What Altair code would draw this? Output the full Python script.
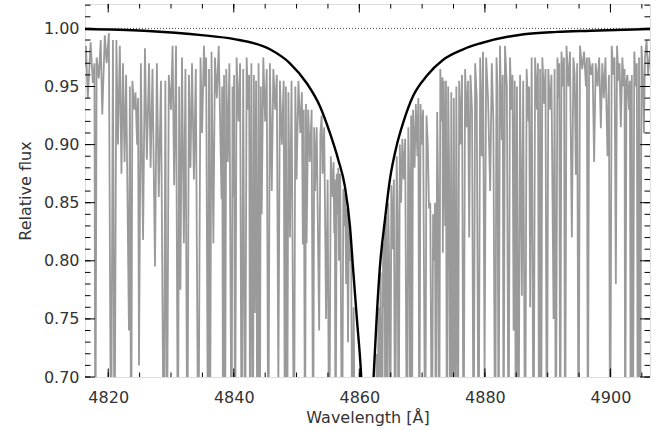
import altair as alt
import pandas as pd

# ---------------- data ----------------
# observed spectrum (wavelength [A], relative flux), blue wing
spec_blue_1 = [(4816.30,0.967),(4816.45,0.985),(4816.75,0.940),(4817.20,0.988),(4817.55,0.953),(4817.80,0.970),
 (4817.95,0.600),(4818.15,0.975),(4818.50,0.957),(4818.80,0.990),(4819.05,0.926),(4819.45,0.994),(4819.75,0.970),
 (4820.10,0.996),(4820.45,0.600),(4820.75,0.990),(4821.00,0.600),(4821.30,0.990),(4821.55,0.900),(4821.85,0.985),
 (4822.10,0.875),(4822.35,0.970),(4822.60,0.885),(4822.85,0.960),(4823.30,0.740),(4823.45,0.950),(4823.65,0.600),
 (4823.85,0.955),(4824.15,0.930),(4824.35,0.945),(4824.60,0.900),(4824.75,0.940),(4824.90,0.710),(4825.20,0.970),
 (4825.55,0.818),(4825.85,0.983),(4826.15,0.887),(4826.50,0.970),(4826.75,0.880),(4827.05,0.965),(4827.45,0.795),
 (4827.75,0.970),(4828.05,0.855),(4828.40,0.955),(4828.85,0.600),(4829.10,0.955),(4829.35,0.600),(4829.65,0.960),
 (4830.00,0.930),(4830.25,0.985),(4830.50,0.865),(4830.80,0.985),(4831.10,0.600),(4831.30,0.950),(4831.50,0.775),
 (4831.75,0.975),(4832.05,0.815),(4832.30,0.965),(4832.60,0.600),(4832.85,0.960),(4833.10,0.880),(4833.35,0.970),
 (4833.65,0.870),(4833.95,0.965),(4834.35,0.600),(4834.70,0.975),(4834.95,0.910),(4835.25,0.985)]

spec_blue_2 = [(4835.40,0.950),(4835.60,0.975),(4835.90,0.600),(4836.05,0.965),(4836.20,0.600),(4836.45,0.980),
 (4836.75,0.815),(4837.00,0.975),(4837.30,0.940),(4837.60,0.985),(4838.05,0.853),(4838.15,0.950),(4838.30,0.600),
 (4838.45,0.960),(4838.60,0.600),(4838.80,0.965),(4839.05,0.885),(4839.30,0.970),(4839.65,0.600),(4839.80,0.950),
 (4839.90,0.855),(4840.05,0.960),(4840.20,0.600),(4840.45,0.975),(4840.75,0.920),(4841.00,0.970),(4841.25,0.600),
 (4841.50,0.965),(4841.80,0.600),(4842.05,0.975),(4842.30,0.930),(4842.45,0.960),(4842.60,0.600),(4842.80,0.970),
 (4843.05,0.600),(4843.20,0.960),(4843.35,0.755),(4843.55,0.955),(4843.75,0.600),(4843.95,0.970),(4844.15,0.600),
 (4844.30,0.950),(4844.45,0.840),(4844.70,0.975),(4845.00,0.920),(4845.25,0.965),(4845.50,0.600),(4845.75,0.970),
 (4846.05,0.860),(4846.30,0.965),(4846.60,0.930),(4846.85,0.960),(4847.10,0.690),(4847.35,0.955),(4847.65,0.900),
 (4847.95,0.955),(4848.15,0.600),(4848.30,0.950),(4848.50,0.600),(4848.70,0.945),(4848.95,0.820),(4849.20,0.955),
 (4849.60,0.600),(4849.80,0.950),(4850.00,0.870),(4850.30,0.955),(4850.60,0.910),(4850.85,0.945),(4851.00,0.814),
 (4851.15,0.930),(4851.35,0.600),(4851.50,0.935),(4851.60,0.815),(4851.85,0.930),(4852.10,0.885),(4852.40,0.930),
 (4852.65,0.600),(4852.80,0.915),(4852.95,0.860),(4853.20,0.915),(4853.60,0.740),(4853.80,0.910)]

spec_core = [(4854.00,0.925),(4854.15,0.875),(4854.40,0.915),(4854.70,0.750),(4854.95,0.870),(4855.20,0.600),
 (4855.45,0.890),(4855.75,0.855),(4855.90,0.885),(4856.00,0.824),(4856.10,0.870),(4856.20,0.600),(4856.40,0.875),
 (4856.55,0.840),(4856.65,0.880),(4856.75,0.800),(4856.95,0.875),(4857.25,0.600),(4857.45,0.862),(4857.60,0.830),
 (4857.75,0.858),(4857.90,0.780),(4858.05,0.845),(4858.20,0.730),(4858.35,0.835),(4858.55,0.800),(4858.70,0.805),
 (4858.90,0.600),(4859.10,0.760),(4859.30,0.600),(4860.50,0.550),(4862.40,0.550),(4862.55,0.600),
 (4862.75,0.720),(4862.90,0.640),(4863.05,0.760),(4863.25,0.700),(4863.40,0.790),(4863.60,0.600),(4863.80,0.815),
 (4863.95,0.760),(4864.05,0.828),(4864.12,0.600),(4864.25,0.838),(4864.40,0.600),(4864.60,0.850),(4864.75,0.800),
 (4864.92,0.600),(4865.10,0.865),(4865.30,0.810),(4865.50,0.870),(4865.70,0.600),(4865.95,0.890),(4866.10,0.840),
 (4866.25,0.600),(4866.45,0.900),(4866.65,0.850),(4866.85,0.905),(4867.05,0.870),(4867.30,0.905),(4867.58,0.600),
 (4867.80,0.915),(4867.95,0.870),(4868.10,0.600),(4868.25,0.925),(4868.37,0.600),(4868.55,0.930),(4868.80,0.880),
 (4869.00,0.935),(4869.25,0.890),(4869.40,0.940),(4869.55,0.600),(4869.75,0.935),(4869.95,0.900),(4870.15,0.930),
 (4870.50,0.600),(4870.70,0.925),(4870.90,0.900),(4871.10,0.845),(4871.30,0.850),(4871.56,0.600),(4871.75,0.840),
 (4871.90,0.800),(4872.05,0.850),(4872.19,0.600),(4872.40,0.928),(4872.55,0.860),(4872.72,0.600),(4872.90,0.965)]

spec_red_1 = [(4873.10,0.920),(4873.25,0.958),(4873.30,0.807),(4873.45,0.955),(4873.67,0.830),(4873.80,0.955),
 (4873.94,0.600),(4874.15,0.950),(4874.30,0.880),(4874.47,0.600),(4874.65,0.945),(4874.85,0.600),(4875.05,0.940),
 (4875.27,0.600),(4875.45,0.950),(4875.70,0.600),(4875.90,0.955),(4876.10,0.900),(4876.35,0.960),(4876.60,0.600),
 (4876.85,0.965),(4877.10,0.915),(4877.30,0.955),(4877.50,0.820),(4877.70,0.960),(4877.95,0.930),(4878.20,0.600),
 (4878.45,0.970),(4878.70,0.940),(4878.99,0.600),(4879.25,0.975),(4879.50,0.890),(4879.70,0.980),(4879.95,0.700),
 (4880.20,0.975),(4880.50,0.940),(4880.84,0.860),(4881.10,0.970),(4881.35,0.920),(4881.64,0.600),(4881.85,0.975),
 (4882.00,0.950),(4882.18,0.600),(4882.40,0.985),(4882.70,0.904),(4882.85,0.960),(4882.97,0.600),(4883.20,0.985),
 (4883.50,0.950),(4883.77,0.600),(4884.00,0.975),(4884.25,0.930),(4884.40,0.960),(4884.57,0.740),(4884.75,0.955),
 (4884.93,0.600),(4885.10,0.950),(4885.36,0.600),(4885.60,0.960),(4885.89,0.770),(4886.10,0.955),(4886.41,0.600),
 (4886.65,0.965),(4886.95,0.920),(4887.05,0.950),(4887.21,0.760),(4887.45,0.975),(4887.75,0.600),(4888.00,0.975),
 (4888.30,0.930),(4888.45,0.970),(4888.64,0.600),(4888.80,0.965),(4888.96,0.600),(4889.15,0.975)]

spec_red_2 = [(4889.45,0.935),(4889.65,0.965),(4889.87,0.600),(4890.10,0.965),(4890.40,0.930),(4890.60,0.960),
 (4890.94,0.750),(4891.10,0.965),(4891.30,0.600),(4891.55,0.975),(4891.75,0.940),(4891.85,0.970),(4891.99,0.600),
 (4892.20,0.980),(4892.45,0.950),(4892.60,0.975),(4892.78,0.600),(4893.00,0.985),(4893.30,0.950),(4893.55,0.980),
 (4893.85,0.820),(4894.10,0.975),(4894.30,0.960),(4894.49,0.874),(4894.70,0.970),(4894.92,0.600),(4895.15,0.985),
 (4895.50,0.965),(4895.80,0.980),(4896.10,0.950),(4896.25,0.975),(4896.40,0.600),(4896.60,0.975),(4896.90,0.960),
 (4897.15,0.970),(4897.40,0.885),(4897.65,0.970),(4897.95,0.950),(4898.20,0.975),(4898.47,0.914),(4898.70,0.970),
 (4898.95,0.940),(4899.20,0.975),(4899.53,0.890),(4899.75,0.960),(4899.95,0.600),(4900.20,0.985),(4900.50,0.960),
 (4900.65,0.975),(4900.86,0.780),(4901.05,0.985),(4901.30,0.955),(4901.45,0.970),(4901.65,0.915),(4901.90,0.975),
 (4902.10,0.950),(4902.25,0.965),(4902.34,0.600),(4902.55,0.955),(4902.70,0.960),(4902.95,0.930),(4903.10,0.955),
 (4903.24,0.600),(4903.40,0.960),(4903.56,0.600),(4903.80,0.980),(4904.05,0.950),(4904.20,0.970),(4904.36,0.600),
 (4904.55,0.975),(4904.73,0.600),(4904.95,0.985),(4905.15,0.960),(4905.32,0.910),(4905.50,0.975),(4905.75,0.990),
 (4906.00,0.960),(4906.30,0.980)]

# smooth H-beta profile (black curve)
profile_wl = [4816.30, 4825.70, 4835.25, 4839.87, 4845.76, 4848.94, 4851.60, 4853.72, 4855.31, 4856.64,
              4857.70, 4858.50, 4858.98, 4859.61, 4860.30, 4861.29, 4862.27, 4862.80, 4863.28, 4864.07,
              4864.87, 4865.94, 4866.99, 4868.58, 4870.71, 4873.36, 4876.54, 4879.20, 4886.21, 4891.46,
              4896.83, 4906.30]
profile_flux = [0.9995, 0.998, 0.994, 0.991, 0.982, 0.970, 0.953, 0.933, 0.910, 0.887,
                0.864, 0.830, 0.795, 0.750, 0.700, 0.550, 0.700, 0.755, 0.795, 0.835,
                0.870, 0.899, 0.919, 0.942, 0.959, 0.973, 0.982, 0.987, 0.995, 0.997,
                0.998, 0.9995]

continuum_level = [1.0]

x_major = [4820, 4840, 4860, 4880, 4900]
x_minor = [4820, 4825, 4830, 4835, 4840, 4845, 4850, 4855, 4860, 4865, 4870, 4875, 4880, 4885, 4890, 4895, 4900, 4905]
y_major = [0.70, 0.75, 0.80, 0.85, 0.90, 0.95, 1.00]
y_minor = [0.70, 0.71, 0.72, 0.73, 0.74, 0.75, 0.76, 0.77, 0.78, 0.79, 0.80, 0.81, 0.82, 0.83, 0.84, 0.85,
           0.86, 0.87, 0.88, 0.89, 0.90, 0.91, 0.92, 0.93, 0.94, 0.95, 0.96, 0.97, 0.98, 0.99, 1.00, 1.01, 1.02]

# ---------------- chart ----------------
W, H = 565, 373
FONT = "DejaVu Sans"
FS = 16
spec = spec_blue_1 + spec_blue_2 + spec_core + spec_red_1 + spec_red_2
spec_df = pd.DataFrame(spec, columns=["wl", "flux"])
prof_df = pd.DataFrame({"wl": profile_wl, "flux": profile_flux})

xs = alt.Scale(domain=[4816.3, 4906.3], nice=False, zero=False)
ys = alt.Scale(domain=[0.70, 1.021], nice=False, zero=False)

X_TITLE = "Wavelength [Å]"
Y_TITLE = "Relative flux"
x_axis = alt.Axis(values=x_major, format="d", ticks=False, domain=False, grid=False,
                  labelFont=FONT, labelFontSize=FS, labelColor="#333", labelPadding=12,
                  titleFont=FONT, titleFontSize=FS, titleFontWeight="normal", titleColor="#333",
                  titlePadding=4)
y_axis = alt.Axis(values=y_major, format=".2f", ticks=False, domain=False, grid=False,
                  labelFont=FONT, labelFontSize=FS, labelColor="#333", labelPadding=6,
                  titleFont=FONT, titleFontSize=FS, titleFontWeight="normal", titleColor="#333",
                  titlePadding=10)

def X(field):
    return alt.X(field, scale=xs, axis=x_axis, title=X_TITLE)

def Y(field):
    return alt.Y(field, scale=ys, axis=y_axis, title=Y_TITLE)

gray = alt.Chart(spec_df).mark_line(color="#9a9a9a", strokeWidth=1.8, clip=True).encode(
    x=X("wl:Q"), y=Y("flux:Q"))

black = alt.Chart(prof_df).mark_line(color="black", strokeWidth=2.4, clip=True,
                                     interpolate="monotone").encode(x=X("wl:Q"), y=Y("flux:Q"))

dotted = alt.Chart(pd.DataFrame({"v": continuum_level})).mark_rule(
    color="#444", strokeWidth=1, strokeDash=[1, 2]).encode(y=Y("v:Q"))

def xticks(vals, L):
    d = pd.DataFrame({"v": vals})
    bot = alt.Chart(d).mark_rule(color="black", strokeWidth=1).encode(
        x=X("v:Q"), y=alt.value(H), y2=alt.value(H - L))
    top = alt.Chart(d).mark_rule(color="black", strokeWidth=1).encode(
        x=X("v:Q"), y=alt.value(0), y2=alt.value(L))
    return [bot, top]

def yticks(vals, L):
    d = pd.DataFrame({"v": vals})
    left = alt.Chart(d).mark_rule(color="black", strokeWidth=1).encode(
        y=Y("v:Q"), x=alt.value(0), x2=alt.value(L))
    right = alt.Chart(d).mark_rule(color="black", strokeWidth=1).encode(
        y=Y("v:Q"), x=alt.value(W), x2=alt.value(W - L))
    return [left, right]

layers = [gray, black, dotted] + xticks(x_minor, 4.5) + xticks(x_major, 8.5) + yticks(y_minor, 5.5) + yticks(y_major, 10)

chart = alt.layer(*layers).properties(
    width=W, height=H,
    autosize=alt.AutoSizeParams(type="none"),
    padding={"left": 85, "top": 4, "right": 14, "bottom": 53},
).configure_view(stroke="black", strokeWidth=1.2).configure(background="white")

chart.save("out.html", embed_options={"renderer": "svg", "actions": False})
